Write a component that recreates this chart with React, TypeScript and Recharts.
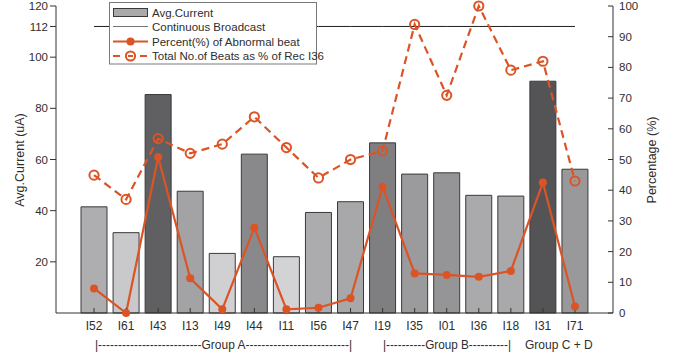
import { ComposedChart, Bar, Line, XAxis, YAxis, Cell } from "recharts"

const categories = ["I52", "I61", "I43", "I13", "I49", "I44", "I11", "I56", "I47", "I19", "I35", "I01", "I36", "I18", "I31", "I71"]
const avgCurrent = [41.5, 31.4, 85.4, 47.6, 23.3, 62.1, 22, 39.3, 43.5, 66.5, 54.3, 54.8, 46, 45.7, 90.6, 56.2]
const abnormalPct = [8, 0, 50.8, 11.3, 1.2, 27.8, 1.2, 1.7, 4.8, 41.1, 12.9, 12.4, 11.8, 13.7, 42.5, 2.1]
const totalBeatsPct = [44.9, 37, 56.8, 52, 55, 63.9, 53.9, 44, 50, 52.8, 94, 70.9, 100, 79.1, 82, 43]
const broadcastLevel = 112

const leftTicks = [20, 40, 60, 80, 100, 112, 120]
const rightTicks = [0, 10, 20, 30, 40, 50, 60, 70, 80, 90, 100]

const barColors = [
  "#aeaeb1", "#c9c9cc", "#606063", "#a3a3a6", "#d0d0d2", "#89898c", "#d3d3d5", "#acacaf",
  "#a8a8ab", "#7f7f82", "#9b9b9e", "#959598", "#aaaaad", "#a9a9ac", "#545457", "#99999c",
]

const data = categories.map((name, i) => ({
  name,
  current: avgCurrent[i],
  broadcast: broadcastLevel,
  abnormal: abnormalPct[i],
  total: totalBeatsPct[i],
}))

const ORANGE = "#dc5425"
const FONT = "'Liberation Sans', Arial, Helvetica, sans-serif"
const TEXT = "#2e2e2e"

const OpenDot = (props: any) => {
  const { cx, cy } = props
  if (cx == null || cy == null) return null
  return <circle cx={cx} cy={cy} r={4.6} fill="none" stroke={ORANGE} strokeWidth={2} />
}

export default function App() {
  const tickStyle = { fontSize: 11.5, fill: TEXT, fontFamily: FONT }
  return (
    <div style={{ position: "absolute", left: 0, top: 0, width: 683, height: 360, background: "#fff", fontFamily: FONT }}>
      <ComposedChart width={683} height={360} data={data} margin={{ top: 6, right: 40, bottom: 17, left: 20 }}>
        <XAxis
          dataKey="name"
          xAxisId="bottom"
          padding={{ left: 22, right: 22 }}
          interval={0}
          tickSize={-5}
          tickMargin={13}
          height={30}
          stroke="#333"
          tick={{ fontSize: 12, fill: TEXT, fontFamily: FONT }}
        />
        <XAxis
          dataKey="name"
          xAxisId="top"
          orientation="top"
          padding={{ left: 22, right: 22 }}
          interval={0}
          height={0}
          tickSize={-5}
          tick={false}
          stroke="#8a8a8a"
        />
        <YAxis
          yAxisId="left"
          domain={[0, 120]}
          ticks={leftTicks}
          width={36}
          tickSize={6}
          tickMargin={2}
          stroke="#333"
          tick={tickStyle}
          interval={0}
        />
        <YAxis
          yAxisId="right"
          orientation="right"
          domain={[0, 100]}
          ticks={rightTicks}
          width={30}
          tickSize={-5}
          tickMargin={11}
          stroke="#333"
          tick={tickStyle}
          interval={0}
        />
        <Bar dataKey="current" xAxisId="bottom" yAxisId="left" barSize={26} stroke="#3a3a3a" strokeWidth={1} isAnimationActive={false}>
          {data.map((d, i) => (
            <Cell key={d.name} fill={barColors[i]} />
          ))}
        </Bar>
        <Line
          dataKey="broadcast"
          xAxisId="bottom"
          yAxisId="left"
          stroke="#1e1e1e"
          strokeWidth={1}
          dot={false}
          isAnimationActive={false}
        />
        <Line
          dataKey="abnormal"
          xAxisId="bottom"
          yAxisId="right"
          stroke={ORANGE}
          strokeWidth={2.2}
          dot={{ r: 4, fill: ORANGE, stroke: ORANGE, strokeWidth: 0 }}
          isAnimationActive={false}
        />
        <Line
          dataKey="total"
          xAxisId="bottom"
          yAxisId="right"
          stroke={ORANGE}
          strokeWidth={2.2}
          strokeDasharray="8 5"
          dot={<OpenDot />}
          isAnimationActive={false}
        />
      </ComposedChart>

      <svg width={683} height={360} style={{ position: "absolute", left: 0, top: 0, pointerEvents: "none" }}>
        <text transform="translate(24,160) rotate(-90)" textAnchor="middle" fontSize={12.5} fill={TEXT} fontFamily={FONT}>
          Avg.Current (uA)
        </text>
        <text transform="translate(656,160) rotate(-90)" textAnchor="middle" fontSize={12.5} fill={TEXT} fontFamily={FONT}>
          Percentage (%)
        </text>

        <g fontSize={12} fill={TEXT} fontFamily={FONT}>
          <text x={95} y={349} textLength={257} lengthAdjust="spacingAndGlyphs">
            |--------------------------Group A--------------------------|
          </text>
          <text x={383} y={349} textLength={128} lengthAdjust="spacingAndGlyphs">
            |----------Group B----------|
          </text>
          <text x={525} y={349}>Group C + D</text>
        </g>

        <g fontFamily={FONT} fontSize={11.5} fill={TEXT}>
          <rect x={109.5} y={2.5} width={207} height={61.5} fill="#fff" stroke="#7a7a7a" strokeWidth={1} />
          <rect x={113.5} y={8.5} width={34} height={8} fill="#aaaaad" stroke="#3a3a3a" strokeWidth={1} />
          <text x={152} y={16.8}>Avg.Current</text>
          <line x1={113} y1={26.5} x2={148} y2={26.5} stroke="#777" strokeWidth={1} />
          <text x={152} y={30.5}>Continuous Broadcast</text>
          <line x1={113} y1={41.5} x2={148} y2={41.5} stroke={ORANGE} strokeWidth={2.2} />
          <circle cx={130.5} cy={41.5} r={4} fill={ORANGE} />
          <text x={152} y={45.5}>Percent(%) of Abnormal beat</text>
          <line x1={113} y1={56} x2={148} y2={56} stroke={ORANGE} strokeWidth={2.2} strokeDasharray="7 20" />
          <circle cx={130.5} cy={56} r={4.6} fill="none" stroke={ORANGE} strokeWidth={2} />
          <line x1={128} y1={56} x2={133} y2={56} stroke={ORANGE} strokeWidth={2} />
          <text x={152} y={60}>Total No.of Beats as % of Rec I36</text>
        </g>
      </svg>
    </div>
  )
}
